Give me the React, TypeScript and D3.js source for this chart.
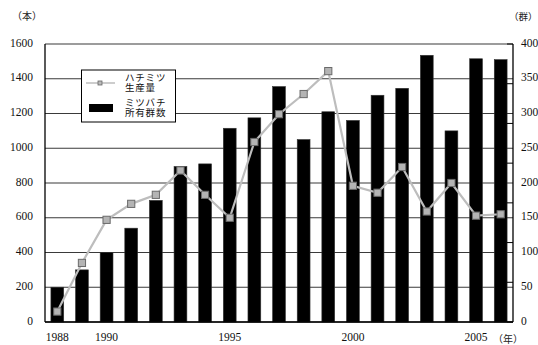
import React from "react";
import * as d3 from "d3";

// Years on the x axis
const years = [
  1988, 1989, 1990, 1991, 1992, 1993, 1994, 1995, 1996, 1997,
  1998, 1999, 2000, 2001, 2002, 2003, 2004, 2005, 2006,
];
// ミツバチ所有群数 (bars, left axis)
const colonies = [
  200, 300, 400, 540, 700, 895, 910, 1115, 1175, 1355,
  1050, 1210, 1160, 1305, 1345, 1535, 1100, 1515, 1510,
];
// ハチミツ生産量 (line, right axis)
const honey = [
  15, 85, 147, 170, 183, 218, 183, 150, 259, 299,
  328, 361, 196, 186, 223, 159, 200, 153, 155,
];
const leftTicks = [0, 200, 400, 600, 800, 1000, 1200, 1400, 1600];
const rightTicks = [0, 50, 100, 150, 200, 250, 300, 350, 400];
const yearLabels = [1988, 1990, 1995, 2000, 2005];
const legendLine = ["ハチミツ", "生産量"];
const legendBar = ["ミツバチ", "所有群数"];

const W = 538;
const H = 345;
const left = 45;
const right = 513;
const top = 44;
const bottom = 322;

const serif = "'Liberation Serif', 'Times New Roman', serif";
const jp = "'Noto Sans CJK JP', sans-serif";

export default function App() {
  const x = d3
    .scaleBand<number>()
    .domain(years)
    .range([left, right])
    .paddingInner(0.48)
    .paddingOuter(0.24);
  const yL = d3.scaleLinear().domain([0, 1600]).range([bottom, top]);
  const yR = d3.scaleLinear().domain([0, 400]).range([bottom, top]);
  const cx = (yr: number) => (x(yr) as number) + x.bandwidth() / 2;

  const line = d3
    .line<number>()
    .x((_, i) => cx(years[i]))
    .y((d) => yR(d));

  // secondary-axis tick marks split the right axis into 7 even steps
  const rightMinor = d3.range(8).map((i) => (i * 400) / 7);

  return (
    <svg
      width={W}
      height={H}
      style={{ position: "absolute", left: 0, top: 0, background: "#fff" }}
    >
      <rect x={0} y={0} width={W} height={H} fill="#fff" />

      {/* horizontal gridlines */}
      {leftTicks.map((t) => (
        <line
          key={"g" + t}
          x1={left}
          x2={right}
          y1={yL(t)}
          y2={yL(t)}
          stroke="#3a3a3a"
          strokeWidth={1.2}
        />
      ))}

      {/* bars */}
      {years.map((yr, i) => (
        <rect
          key={"b" + yr}
          x={x(yr)}
          y={yL(colonies[i])}
          width={x.bandwidth()}
          height={yL(0) - yL(colonies[i])}
          fill="#000"
          stroke="#333"
          strokeWidth={0.6}
        />
      ))}

      {/* honey production line */}
      <path d={line(honey) || ""} fill="none" stroke="#bdbdbd" strokeWidth={2.2} />
      {honey.map((v, i) => (
        <rect
          key={"m" + i}
          x={cx(years[i]) - 3.6}
          y={yR(v) - 3.6}
          width={7.2}
          height={7.2}
          fill="#b4b4b4"
          stroke="#6a6a6a"
          strokeWidth={1}
        />
      ))}

      {/* frame */}
      <line x1={left} x2={left} y1={top} y2={bottom} stroke="#000" strokeWidth={1.3} />
      <line x1={right} x2={right} y1={top} y2={bottom} stroke="#000" strokeWidth={1.3} />
      <line x1={left} x2={right} y1={bottom} y2={bottom} stroke="#000" strokeWidth={1.3} />
      {rightMinor.map((t, i) => (
        <line
          key={"rt" + i}
          x1={right - 6}
          x2={right}
          y1={yR(t)}
          y2={yR(t)}
          stroke="#000"
          strokeWidth={1}
        />
      ))}

      {/* left axis labels */}
      {leftTicks.map((t) => (
        <text
          key={"l" + t}
          x={33}
          y={yL(t)}
          textAnchor="end"
          dominantBaseline="middle"
          fontFamily={serif}
          fontSize={11.5}
          fill="#111"
        >
          {t}
        </text>
      ))}
      {/* right axis labels */}
      {rightTicks.map((t) => (
        <text
          key={"r" + t}
          x={521}
          y={yR(t)}
          textAnchor="start"
          dominantBaseline="middle"
          fontFamily={serif}
          fontSize={11.5}
          fill="#111"
        >
          {t}
        </text>
      ))}
      {/* year labels */}
      {yearLabels.map((yr) => (
        <text
          key={"y" + yr}
          x={cx(yr)}
          y={338}
          textAnchor="middle"
          dominantBaseline="middle"
          fontFamily={serif}
          fontSize={11.5}
          fill="#111"
        >
          {yr}
        </text>
      ))}

      {/* unit labels */}
      <text x={12} y={17} dominantBaseline="middle" fontFamily={jp} fontSize={10} fill="#222">
        （本）
      </text>
      <text x={509} y={17} dominantBaseline="middle" fontFamily={jp} fontSize={9.5} fill="#222">
        （群）
      </text>
      <text x={493} y={340} dominantBaseline="middle" fontFamily={jp} fontSize={10} fill="#222">
        （年）
      </text>

      {/* legend */}
      <rect x={81.5} y={70} width={94} height={52} fill="#fff" stroke="#000" strokeWidth={1} />
      <line x1={86} x2={115} y1={83} y2={83} stroke="#bdbdbd" strokeWidth={1.5} />
      <rect x={98} y={81} width={4} height={4} fill="#bbb" stroke="#666" strokeWidth={0.8} />
      <text x={125} y={80.5} fontFamily={jp} fontSize={9.5} letterSpacing={0.8} fill="#111">
        {legendLine.map((s, i) => (
          <tspan key={s} x={125} dy={i === 0 ? 0 : 10.5}>
            {s}
          </tspan>
        ))}
      </text>
      <rect x={89} y={104} width={24} height={8} fill="#000" />
      <text x={125} y={105.5} fontFamily={jp} fontSize={9.5} letterSpacing={0.8} fill="#111">
        {legendBar.map((s, i) => (
          <tspan key={s} x={125} dy={i === 0 ? 0 : 10.5}>
            {s}
          </tspan>
        ))}
      </text>
    </svg>
  );
}
